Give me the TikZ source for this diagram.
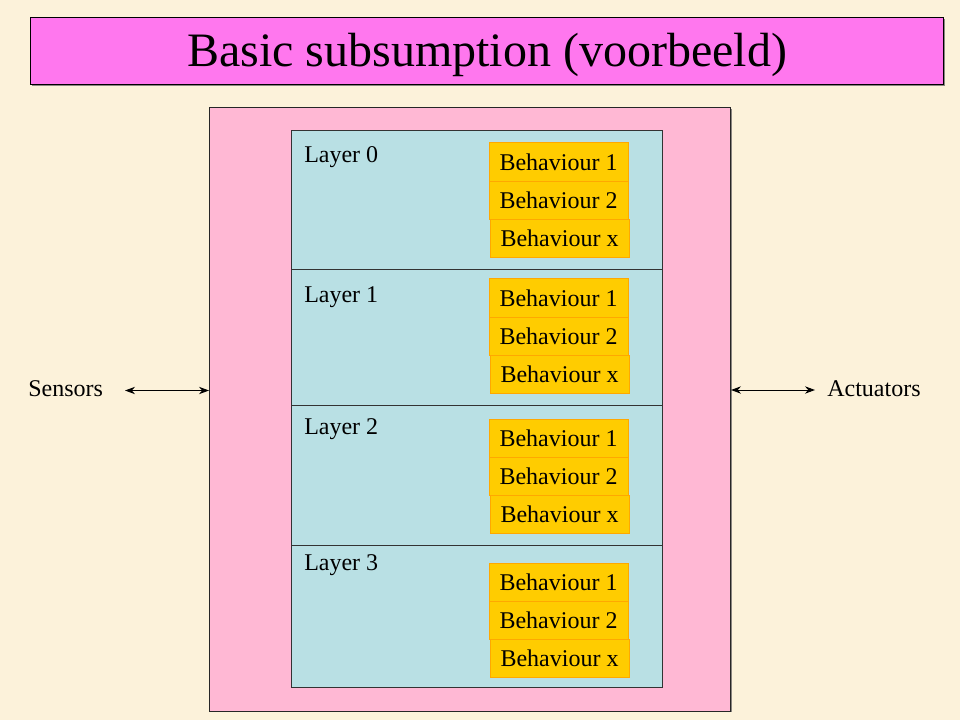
\documentclass[tikz,border=0pt]{standalone}
\usepackage{fontspec}
\setmainfont{Liberation Serif}
\usetikzlibrary{arrows.meta}
\definecolor{bgc}{HTML}{FCF2DA}
\definecolor{titlefill}{HTML}{FF77EE}
\definecolor{outerfill}{HTML}{FFB8D4}
\definecolor{layerfill}{HTML}{B9E0E4}
\definecolor{behfill}{HTML}{FFCC00}
\definecolor{behdraw}{HTML}{FFA800}
\definecolor{shadowc}{HTML}{8A8580}
\begin{document}
\begin{tikzpicture}[x=0.75pt,y=-0.75pt,
  behbox/.style={draw=behdraw,fill=behfill,line width=0.75pt,minimum width=104.25pt,minimum height=28.7pt,inner sep=0pt,anchor=north west,font=\fontsize{18}{20}\selectfont},
  layerbox/.style={draw=black!80,fill=layerfill,line width=0.75pt,minimum width=278.25pt,inner sep=0pt,anchor=north west},
  lbl/.style={anchor=west,inner sep=0pt,font=\fontsize{18}{20}\selectfont},
  biarrow/.style={{Stealth[length=7.5pt,width=5.5pt]}-{Stealth[length=7.5pt,width=5.5pt]},line width=0.75pt}]
\fill[bgc] (0,0) rectangle (960,720);
\useasboundingbox (0,0) rectangle (960,720);
% title
\fill[shadowc] (32,19) rectangle (945,86.5);
\node[draw=black,fill=titlefill,line width=0.75pt,minimum width=684.75pt,minimum height=50.25pt,inner sep=0pt,anchor=north west] (title) at (30,17.5) {};
\node[inner sep=0pt,font=\fontsize{36}{40}\selectfont] (titletext) at ([yshift=-2.5pt]title.center) {Basic subsumption (voorbeeld)};
% outer box
\fill[shadowc] (211,109) rectangle (731.5,712);
\node[draw=black!85,fill=outerfill,line width=0.75pt,minimum width=390.75pt,minimum height=453pt,inner sep=0pt,anchor=north west] (outer) at (209,107) {};
% layers
\node[layerbox,minimum height=104.25pt] (L0) at (291,130) {};
\node[layerbox,minimum height=102pt] (L1) at (291,269) {};
\node[layerbox,minimum height=105pt] (L2) at (291,405) {};
\node[layerbox,minimum height=106.5pt] (L3) at (291,545) {};
\node[lbl] (t0) at ([shift={(13,27)}]L0.north west) {Layer 0};
\node[lbl] (t1) at ([shift={(13,28)}]L1.north west) {Layer 1};
\node[lbl] (t2) at ([shift={(13,24)}]L2.north west) {Layer 2};
\node[lbl] (t3) at ([shift={(13,20)}]L3.north west) {Layer 3};
% behaviours
\foreach \g/\y in {0/142.5,1/278.5,2/418.5,3/562.5}{
  \node[behbox] (b\g a) at (488.5,\y) {Behaviour 1};
  \node[behbox] (b\g b) at (488.5,\y+38.3) {Behaviour 2};
  \node[behbox] (b\g x) at (489.5,\y+76.6) {Behaviour x};
}
% sensors / actuators
\node[lbl] (sens) at (28,389) {Sensors};
\node[lbl] (act) at (827,389) {Actuators};
\coordinate (sa) at (125,390.5);
\coordinate (aa) at (815,390);
\draw[biarrow] (sa) -- (outer.west |- sa);
\draw[biarrow] (outer.east |- aa) -- (aa);
\end{tikzpicture}
\end{document}
